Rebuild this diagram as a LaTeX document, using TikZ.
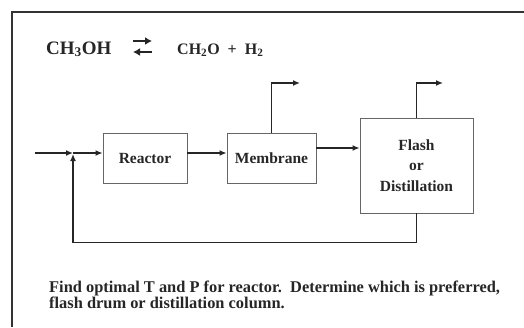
\documentclass[tikz,border=0pt]{standalone}
\usepackage{fontspec}
\setmainfont{Liberation Serif}
\usetikzlibrary{arrows.meta, positioning}

\begin{document}
\begin{tikzpicture}[x=1pt, y=-1pt,
    unit/.style={draw=black!60, line width=0.9pt, minimum height=50pt, align=center,
        text=black!85, font=\bfseries\fontsize{15.5}{20.5}\selectfont},
    flow/.style={-{Latex[length=7pt,width=6pt]}, line width=1.3pt, black!85}]
    % Frame
    \useasboundingbox (0,0) rectangle (524,327);
    \draw[line width=1.6pt, black!80] (12,327) -- (12,12) -- (524,12);

    % Reaction
    \node[anchor=base west, inner sep=0pt, text=black!85, font=\bfseries\fontsize{19}{20}\selectfont]
        (meoh) at (46,54) {CH\textsubscript{3}OH};
    \node[anchor=base west, inner sep=0pt, text=black!85, font=\bfseries\fontsize{16}{20}\selectfont]
        (prod) at (177,54) {CH\textsubscript{2}O\hspace{0.5em}+\hspace{0.5em}H\textsubscript{2}};
    \coordinate (fwd) at (133,41);
    \coordinate (bwd) at (152,52);
    \draw[-{Latex[length=7pt,width=8pt]}, line width=1.8pt, black!85] (fwd) -- ++(19,0);
    \draw[-{Latex[length=7pt,width=8pt]}, line width=1.8pt, black!85] (bwd) -- ++(-19,0);

    % Units
    \node[unit, minimum width=84pt] (reactor) at (145,158) {Reactor};
    \node[unit, minimum width=89pt] (membrane) at (271.5,158) {Membrane};
    \node[unit, minimum width=113pt, minimum height=95pt] (flash) at (416.5,165.5) {Flash\\or\\Distillation};

    % Streams
    \coordinate (feed) at (35,153);
    \coordinate (mix) at (73,153);
    \coordinate (memout) at (300,83);
    \coordinate (flashout) at (443,83);
    \draw[flow] (feed) -- (mix);
    \draw[flow] (mix) -- ([yshift=5pt]reactor.west);
    \draw[flow] ([yshift=5pt]reactor.east) -- ([yshift=5pt]membrane.west);
    \draw[flow] ([yshift=10pt]membrane.east) -- ([yshift=10pt]membrane.east -| flash.west);
    \draw[flow] (membrane.north) |- (memout);
    \draw[flow] (flash.north) |- (flashout);
    \draw[flow, shorten >=1pt] (flash.south) -- ++(0,29) -| (mix);

    % Task
    \node[anchor=base west, inner sep=0pt, align=left, text=black!85,
        font=\bfseries\fontsize{16.4}{15.8}\selectfont] (task) at (49,308)
        {Find optimal T and P for reactor.\ \ Determine which is preferred,\\flash drum or distillation column.};
\end{tikzpicture}
\end{document}
